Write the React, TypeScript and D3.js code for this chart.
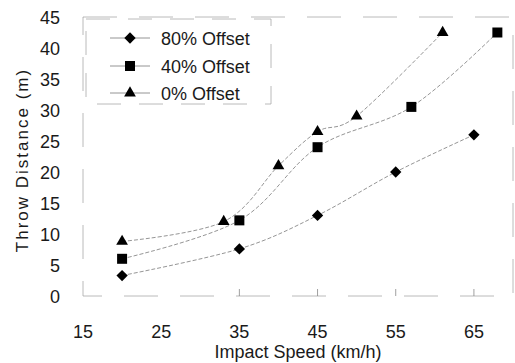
import React, { useRef, useEffect } from 'react';
import * as d3 from 'd3';

type Pt = { speed: number; dist: number };

const offset80: Pt[] = [
  { speed: 20, dist: 3.3 },
  { speed: 35, dist: 7.6 },
  { speed: 45, dist: 13 },
  { speed: 55, dist: 20 },
  { speed: 65, dist: 26 },
];
const offset40: Pt[] = [
  { speed: 20, dist: 6 },
  { speed: 35, dist: 12.2 },
  { speed: 45, dist: 24 },
  { speed: 57, dist: 30.5 },
  { speed: 68, dist: 42.5 },
];
const offset0: Pt[] = [
  { speed: 20, dist: 8.8 },
  { speed: 33, dist: 12 },
  { speed: 40, dist: 21 },
  { speed: 45, dist: 26.5 },
  { speed: 50, dist: 29 },
  { speed: 61, dist: 42.5 },
];

const xTicks = [15, 25, 35, 45, 55, 65];
const yTicks = [0, 5, 10, 15, 20, 25, 30, 35, 40, 45];
const seriesNames = ['80% Offset', '40% Offset', '0% Offset'];
// diamond = square turned 45 degrees
const seriesShapes = [d3.symbolSquare, d3.symbolSquare, d3.symbolTriangle];
const seriesSizes = [64, 100, 60];
const seriesRotate = [45, 0, 0];

const W = 515;
const H = 363;

const App: React.FC = () => {
  const svgRef = useRef<SVGSVGElement>(null);

  useEffect(() => {
    if (!svgRef.current) return;
    const svg = d3.select(svgRef.current);
    svg.selectAll('*').remove();

    const font = '"Liberation Sans", Arial, sans-serif';
    const left = 83, right = 513, top = 17, bottom = 296;

    const x = d3.scaleLinear().domain([15, 70]).range([left, right]);
    const y = d3.scaleLinear().domain([0, 45]).range([bottom, top]);

    // frame (faint dashed, like the scan)
    svg.append('rect')
      .attr('x', left).attr('y', top)
      .attr('width', right - left).attr('height', bottom - top)
      .attr('fill', 'none')
      .attr('stroke', '#a8a8a8')
      .attr('stroke-width', 0.8)
      .attr('stroke-dasharray', '34,22');

    // small inner ticks on the bottom
    svg.append('g')
      .selectAll('line')
      .data(xTicks.slice(2))
      .join('line')
      .attr('x1', d => x(d)).attr('x2', d => x(d))
      .attr('y1', bottom).attr('y2', bottom - 7)
      .attr('stroke', '#888')
      .attr('stroke-width', 0.8);

    // tick labels
    svg.append('g')
      .selectAll('text')
      .data(yTicks)
      .join('text')
      .attr('x', 60)
      .attr('y', d => y(d) + 7)
      .attr('text-anchor', 'end')
      .style('font-family', font)
      .style('font-size', '18px')
      .style('fill', '#1a1a1a')
      .text(d => d);

    svg.append('g')
      .selectAll('text')
      .data(xTicks)
      .join('text')
      .attr('x', d => x(d))
      .attr('y', 338)
      .attr('text-anchor', 'middle')
      .style('font-family', font)
      .style('font-size', '18px')
      .style('fill', '#1a1a1a')
      .text(d => d);

    // axis titles
    svg.append('text')
      .attr('x', 298).attr('y', 358)
      .attr('text-anchor', 'middle')
      .style('font-family', font)
      .style('font-size', '18px')
      .style('fill', '#1a1a1a')
      .text('Impact Speed (km/h)');

    svg.append('text')
      .attr('transform', 'translate(28,160) rotate(-90)')
      .attr('text-anchor', 'middle')
      .style('font-family', font)
      .style('font-size', '17px')
      .style('letter-spacing', '2px')
      .style('fill', '#1a1a1a')
      .text('Throw Distance (m)');

    // lines
    const line = d3.line<Pt>()
      .x(d => x(d.speed))
      .y(d => y(d.dist))
      .curve(d3.curveCatmullRom.alpha(0));

    const allSeries = [offset80, offset40, offset0];
    allSeries.forEach((s, i) => {
      svg.append('path')
        .datum(s)
        .attr('fill', 'none')
        .attr('stroke', '#7a7a7a')
        .attr('stroke-width', 0.8)
        .attr('stroke-dasharray', '4,2')
        .attr('d', line);

      svg.append('g')
        .selectAll('path')
        .data(s)
        .join('path')
        .attr('transform', d => `translate(${x(d.speed)},${y(d.dist)}) rotate(${seriesRotate[i]})`)
        .attr('d', d3.symbol(seriesShapes[i], seriesSizes[i])())
        .attr('fill', '#000');
    });

    // legend
    const lg = svg.append('g');
    lg.append('rect')
      .attr('x', 86).attr('y', 19)
      .attr('width', 185).attr('height', 85)
      .attr('fill', '#fff')
      .attr('stroke', '#a8a8a8')
      .attr('stroke-width', 0.8)
      .attr('stroke-dasharray', '24,18');
    const rows = [38, 66, 93];
    seriesNames.forEach((name, i) => {
      lg.append('line')
        .attr('x1', 110).attr('x2', 150)
        .attr('y1', rows[i]).attr('y2', rows[i])
        .attr('stroke', '#7a7a7a')
        .attr('stroke-width', 0.8);
      lg.append('path')
        .attr('transform', `translate(130,${rows[i]}) rotate(${seriesRotate[i]})`)
        .attr('d', d3.symbol(seriesShapes[i], seriesSizes[i])())
        .attr('fill', '#000');
      lg.append('text')
        .attr('x', 161).attr('y', rows[i] + 7)
        .style('font-family', font)
        .style('font-size', '18px')
        .style('fill', '#1a1a1a')
        .text(name);
    });
  }, []);

  return (
    <svg
      ref={svgRef}
      width={W}
      height={H}
      style={{ position: 'absolute', left: 0, top: 0, background: '#fff' }}
    />
  );
};

export default App;
